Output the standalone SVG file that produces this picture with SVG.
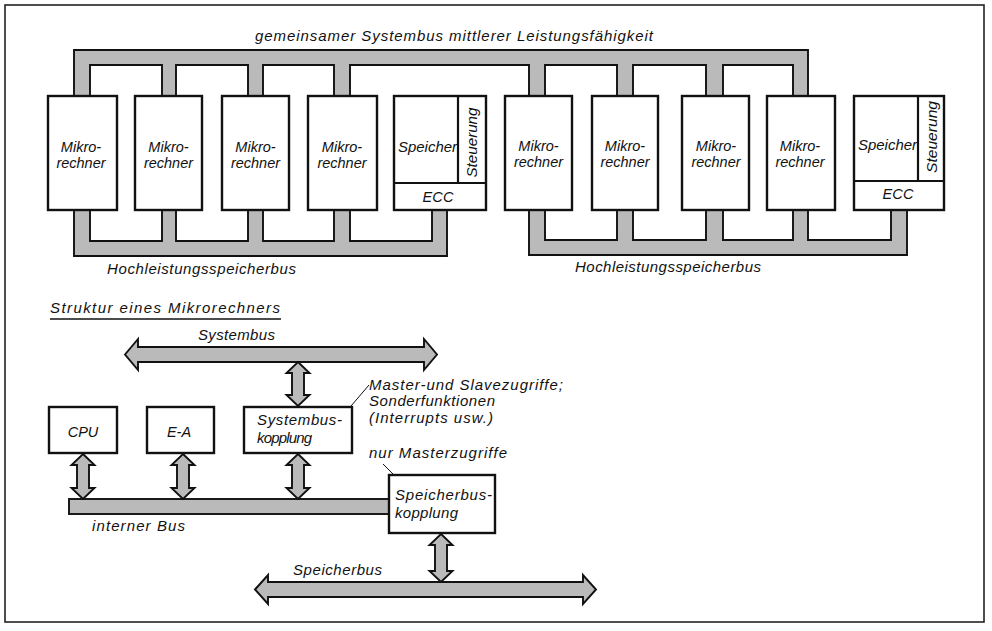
<svg xmlns="http://www.w3.org/2000/svg" width="992" height="631" viewBox="0 0 992 631">
  <style>
    text { font-family: "Liberation Sans", "DejaVu Sans", sans-serif; font-style: italic; font-size: 15px; fill: #111; }
    .c { text-anchor: middle; }
    .lbl { font-size: 14.5px; }
    .box { fill: #fff; stroke: #111; stroke-width: 2.4; }
    .div { fill: none; stroke: #111; stroke-width: 2.2; }
    .bus { fill: #bababa; stroke: #111; stroke-width: 1.9; stroke-linejoin: miter; }
    .lead { fill: none; stroke: #111; stroke-width: 1; }
  </style>

  <rect width="992" height="631" fill="#fff"/>
  <!-- outer frame -->
  <rect x="5" y="5" width="979" height="617" fill="none" stroke="#222" stroke-width="1.6"/>

  <!-- bus lines and coupling arrows -->
  <g id="connectors">
    <!-- shared system bus (comb from above) -->
    <path class="bus" d="M74,96 V50 H808 V96 H793 V65 H723 V96 H706 V65 H633 V96 H617 V65 H545 V96 H529 V65 H350 V96 H334 V65 H263 V96 H248 V65 H176 V96 H162 V65 H90 V96 Z"/>
    <!-- high-performance memory bus, left group -->
    <path class="bus" d="M74,210 V256 H447 V210 H432 V241 H350 V210 H334 V241 H263 V210 H248 V241 H176 V210 H162 V241 H90 V210 Z"/>
    <!-- high-performance memory bus, right group -->
    <path class="bus" d="M529,210 V255 H907 V210 H891 V240 H808 V210 H793 V240 H723 V210 H706 V240 H633 V210 H617 V240 H545 V210 Z"/>

    <!-- Systembus (double arrow) -->
    <polygon class="bus" points="125,354.5 138,339 138,347 424,347 424,339 437,354.5 424,370 424,362 138,362 138,370"/>
    <!-- Systembus <-> Systembuskopplung -->
    <polygon class="bus" points="298,362 309.5,373 304,373 304,395 309.5,395 298,406 286.5,395 292,395 292,373 286.5,373"/>
    <!-- interner Bus -->
    <rect class="bus" x="69" y="499" width="322" height="15"/>
    <!-- CPU <-> interner Bus -->
    <polygon class="bus" points="83,454 94.5,465 89,465 89,488 94.5,488 83,499 71.5,488 77,488 77,465 71.5,465"/>
    <!-- E-A <-> interner Bus -->
    <polygon class="bus" points="183,454 194.5,465 189,465 189,488 194.5,488 183,499 171.5,488 177,488 177,465 171.5,465"/>
    <!-- Systembuskopplung <-> interner Bus -->
    <polygon class="bus" points="298,454 309.5,465 304,465 304,488 309.5,488 298,499 286.5,488 292,488 292,465 286.5,465"/>
    <!-- Speicherbuskopplung <-> Speicherbus -->
    <polygon class="bus" points="441,534 452.5,545 447,545 447,571 452.5,571 441,582 429.5,571 435,571 435,545 429.5,545"/>
    <!-- Speicherbus (double arrow) -->
    <polygon class="bus" points="255,589.5 268,575 268,582 583,582 583,575 596,589.5 583,604 583,597 268,597 268,604"/>

    <!-- annotation leaders -->
    <line class="lead" x1="351" y1="406" x2="369" y2="385"/>
    <line class="lead" x1="383" y1="464" x2="400" y2="481"/>
  </g>

  <!-- bus labels -->
  <text x="255" y="41" textLength="398" lengthAdjust="spacing" font-size="16">gemeinsamer Systembus mittlerer Leistungsfähigkeit</text>
  <text x="107" y="274" textLength="189" lengthAdjust="spacing">Hochleistungsspeicherbus</text>
  <text x="575" y="272" textLength="186" lengthAdjust="spacing">Hochleistungsspeicherbus</text>

  <!-- upper row: microcomputers and memories -->
  <g id="mr1"><rect class="box" x="48" y="96" width="69" height="114"/>
    <text class="c lbl" x="81" y="152">Mikro-</text><text class="c lbl" x="81" y="168">rechner</text></g>
  <g id="mr2"><rect class="box" x="135" y="96" width="67" height="114"/>
    <text class="c lbl" x="168.5" y="152">Mikro-</text><text class="c lbl" x="168.5" y="168">rechner</text></g>
  <g id="mr3"><rect class="box" x="222" y="96" width="67" height="114"/>
    <text class="c lbl" x="255.5" y="152">Mikro-</text><text class="c lbl" x="255.5" y="168">rechner</text></g>
  <g id="mr4"><rect class="box" x="308" y="96" width="69" height="114"/>
    <text class="c lbl" x="342" y="152">Mikro-</text><text class="c lbl" x="342" y="168">rechner</text></g>
  <g id="mem1"><rect class="box" x="394" y="96" width="92" height="114"/>
    <line class="div" x1="394" y1="183" x2="486" y2="183"/>
    <line class="div" x1="458" y1="96" x2="458" y2="183"/>
    <text class="lbl" x="398" y="152" textLength="59" lengthAdjust="spacingAndGlyphs">Speicher</text>
    <text class="c lbl" transform="translate(477,142.5) rotate(-90)" x="0" y="0" textLength="70" lengthAdjust="spacingAndGlyphs">Steuerung</text>
    <text class="c lbl" x="438" y="202" textLength="31" lengthAdjust="spacing">ECC</text></g>

  <g id="mr5"><rect class="box" x="505" y="96" width="67" height="114"/>
    <text class="c lbl" x="538.5" y="151">Mikro-</text><text class="c lbl" x="538.5" y="167">rechner</text></g>
  <g id="mr6"><rect class="box" x="592" y="96" width="66" height="114"/>
    <text class="c lbl" x="625" y="151">Mikro-</text><text class="c lbl" x="625" y="167">rechner</text></g>
  <g id="mr7"><rect class="box" x="682" y="96" width="67" height="114"/>
    <text class="c lbl" x="716" y="151">Mikro-</text><text class="c lbl" x="716" y="167">rechner</text></g>
  <g id="mr8"><rect class="box" x="767" y="96" width="68" height="114"/>
    <text class="c lbl" x="800" y="151">Mikro-</text><text class="c lbl" x="800" y="167">rechner</text></g>
  <g id="mem2"><rect class="box" x="854" y="96" width="90" height="114"/>
    <line class="div" x1="854" y1="181" x2="944" y2="181"/>
    <line class="div" x1="918" y1="96" x2="918" y2="181"/>
    <text class="lbl" x="858" y="150" textLength="59" lengthAdjust="spacingAndGlyphs">Speicher</text>
    <text class="c lbl" transform="translate(936.5,137) rotate(-90)" x="0" y="0" textLength="72" lengthAdjust="spacingAndGlyphs">Steuerung</text>
    <text class="c lbl" x="898" y="199" textLength="31" lengthAdjust="spacing">ECC</text></g>

  <!-- lower part: structure of one microcomputer -->
  <text x="50" y="313" textLength="230" lengthAdjust="spacing">Struktur eines Mikrorechners</text>
  <line x1="50" y1="319" x2="281" y2="319" stroke="#111" stroke-width="1.3"/>
  <text x="198" y="340" textLength="77" lengthAdjust="spacing">Systembus</text>

  <g id="cpu"><rect class="box" x="49" y="407" width="68" height="46"/>
    <text class="c lbl" x="83" y="437">CPU</text></g>
  <g id="ea"><rect class="box" x="147" y="407" width="67" height="46"/>
    <text class="c lbl" x="179" y="437">E-A</text></g>
  <g id="sbk"><rect class="box" x="244" y="407" width="108" height="46"/>
    <text x="257" y="425" textLength="85" lengthAdjust="spacing">Systembus-</text>
    <text x="257" y="443" textLength="55" lengthAdjust="spacing">kopplung</text></g>
  <g id="spk"><rect class="box" x="389" y="475" width="106" height="58"/>
    <text x="395" y="500" textLength="97" lengthAdjust="spacing">Speicherbus-</text>
    <text x="395" y="518" textLength="63" lengthAdjust="spacing">kopplung</text></g>

  <text x="369" y="390" textLength="194" lengthAdjust="spacing">Master-und Slavezugriffe;</text>
  <text x="369" y="406" textLength="126" lengthAdjust="spacing">Sonderfunktionen</text>
  <text x="369" y="423" textLength="124" lengthAdjust="spacing">(Interrupts usw.)</text>
  <text x="369" y="458" textLength="138" lengthAdjust="spacing">nur Masterzugriffe</text>
  <text x="92" y="531" textLength="93" lengthAdjust="spacing">interner Bus</text>
  <text x="293" y="575" textLength="89" lengthAdjust="spacing">Speicherbus</text>
</svg>
